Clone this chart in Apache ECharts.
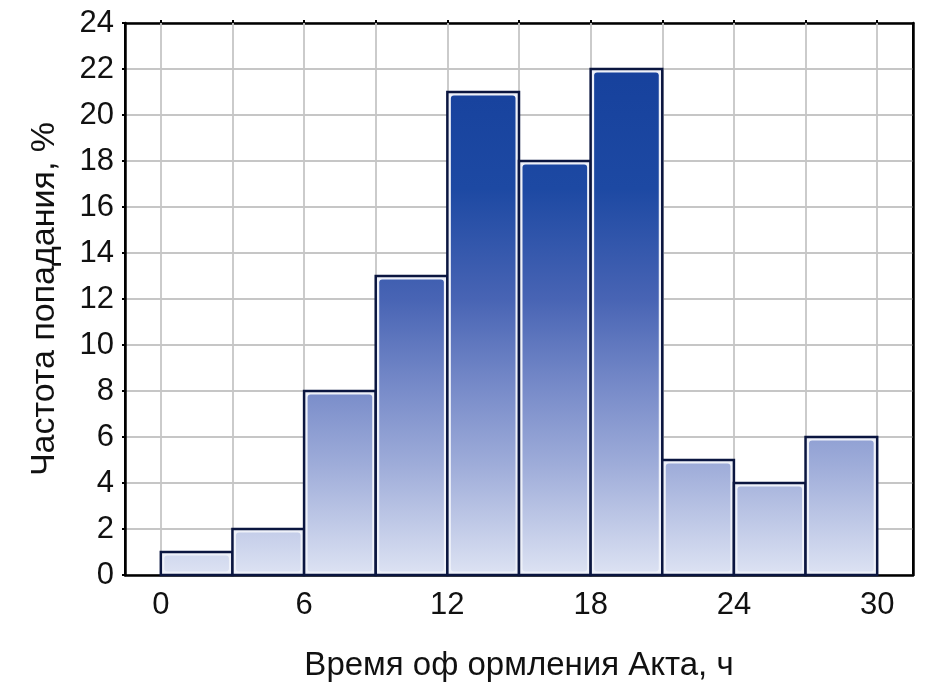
<!DOCTYPE html>
<html>
<head>
<meta charset="utf-8">
<script src="https://cdn.jsdelivr.net/npm/echarts@6/dist/echarts.min.js"></script>
<style>
html,body{margin:0;padding:0;background:#fff;}
#chart{width:945px;height:687px;}
</style>
</head>
<body>
<div id="chart"></div>
<script>
// Histogram bins (hours) and frequencies (%)
const binStarts = [0, 3, 6, 9, 12, 15, 18, 21, 24, 27];
const binWidth = 3;
const frequencies = [1, 2, 8, 13, 21, 18, 22, 5, 4, 6];
const xTickLabels = [0, 6, 12, 18, 24, 30];
const xGridLines = [0, 3, 6, 9, 12, 15, 18, 21, 24, 27, 30];
const xTitle = 'Время оф ормления Акта, ч';
const yTitle = 'Частота попадания, %';

const barData = binStarts.map((s, i) => [s, s + binWidth, frequencies[i]]);

const FONT = 'Liberation Sans';
const gradStops = [
  {offset: 0, color: '#143e9a'},
  {offset: 0.3, color: '#1d49a3'},
  {offset: 0.5, color: '#4864b4'},
  {offset: 0.67, color: '#7a8dca'},
  {offset: 0.8, color: '#9eacd9'},
  {offset: 1, color: '#dde3f3'}
];

const chart = echarts.init(document.getElementById('chart'));
chart.setOption({
  animation: false,
  grid: {left: 125, top: 23, right: 32, bottom: 110, show: true, borderColor: '#000', borderWidth: 2, backgroundColor: '#fff'},
  xAxis: [{
    type: 'value', min: -1.5, max: 31.5,
    name: xTitle, nameLocation: 'middle', nameGap: 74,
    nameTextStyle: {fontFamily: FONT, fontSize: 33, color: '#111'},
    axisLine: {show: true, onZero: false, lineStyle: {color: '#000', width: 2.5}},
    axisTick: {show: false},
    axisLabel: {customValues: xTickLabels, fontFamily: FONT, fontSize: 31, color: '#111', margin: 15},
    splitLine: {show: false}
  }, {
    type: 'value', min: -1.5, max: 31.5, position: 'top',
    axisLine: {show: true, onZero: false, lineStyle: {color: '#000', width: 2.5}},
    axisTick: {show: true, customValues: xGridLines, length: 3, lineStyle: {color: '#000', width: 2}},
    axisLabel: {show: false},
    splitLine: {show: false}
  }],
  yAxis: [{
    type: 'value', min: 0, max: 24, interval: 2,
    name: yTitle, nameLocation: 'middle', nameGap: 63,
    nameTextStyle: {fontFamily: FONT, fontSize: 34, color: '#111'},
    axisLine: {show: true, onZero: false, lineStyle: {color: '#000', width: 2.5}},
    axisTick: {show: true, length: 3, lineStyle: {color: '#000', width: 2}},
    axisLabel: {fontFamily: FONT, fontSize: 31, color: '#111', margin: 11},
    splitLine: {show: true, lineStyle: {color: '#c6c6c6', width: 1.8}}
  }, {
    type: 'value', min: 0, max: 24, interval: 2, position: 'right',
    axisLine: {show: true, onZero: false, lineStyle: {color: '#000', width: 2.5}},
    axisTick: {show: false},
    axisLabel: {show: false},
    splitLine: {show: false}
  }],
  series: [
    {
      type: 'line', data: [], z: 1, silent: true,
      markLine: {
        z: 1, silent: true, symbol: 'none', animation: false,
        label: {show: false},
        lineStyle: {color: '#c6c6c6', width: 1.8, type: 'solid'},
        data: xGridLines.map(v => ({xAxis: v}))
      }
    },
    {
      type: 'custom', z: 3,
      data: barData,
      encode: {x: [0, 1], y: 2},
      renderItem: function (params, api) {
        const x0 = api.value(0), x1 = api.value(1), v = api.value(2);
        const p0 = api.coord([x0, v]);
        const p1 = api.coord([x1, 0]);
        const top = api.coord([0, 24])[1];
        const bot = api.coord([0, 0])[1];
        const w = p1[0] - p0[0], h = p1[1] - p0[1];
        const grad = new echarts.graphic.LinearGradient(0, top, 0, bot, gradStops, true);
        return {
          type: 'group',
          children: [
            {type: 'rect', shape: {x: p0[0], y: p0[1], width: w, height: h},
             style: {fill: '#eef1f9', stroke: '#0b1640', lineWidth: 2.5}},
            {type: 'rect', shape: {x: p0[0] + 3.5, y: p0[1] + 3.5, width: w - 7, height: h - 7, r: 3},
             style: {fill: grad}}
          ]
        };
      }
    }
  ]
});
</script>
</body>
</html>
